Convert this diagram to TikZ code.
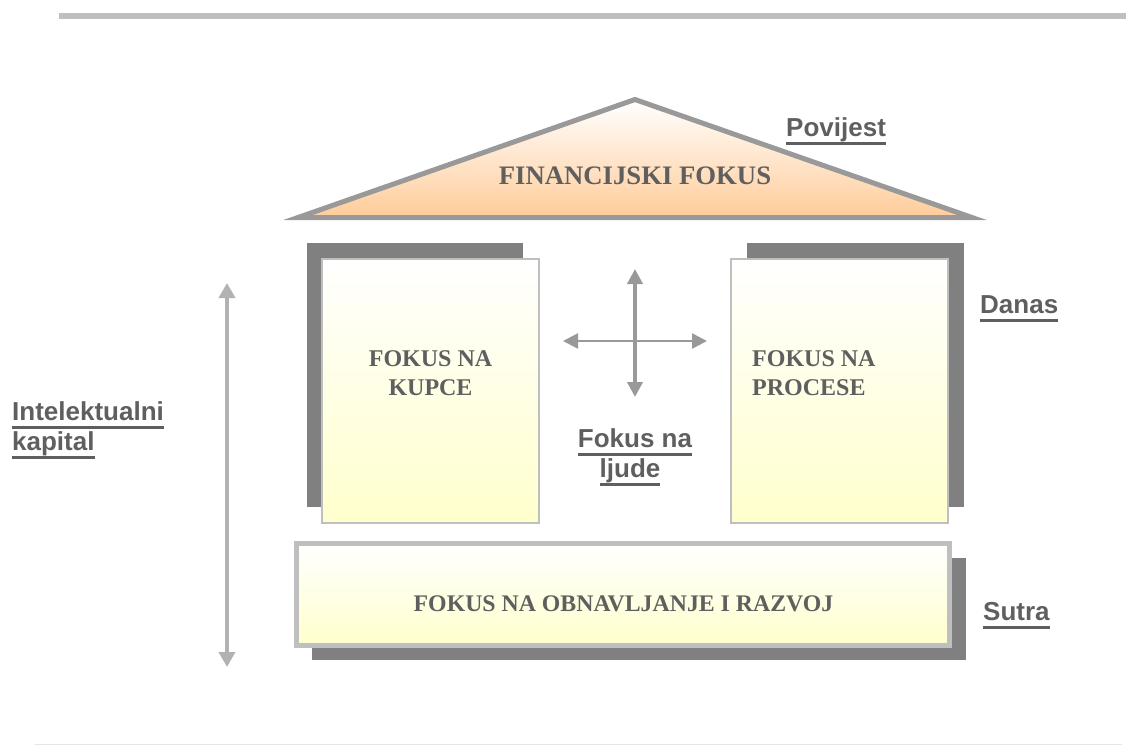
\documentclass[tikz,border=0pt]{standalone}
\usepackage{fontspec}
\setmainfont{Liberation Serif}
\newfontfamily\labelfont{Liberation Sans}
\usetikzlibrary{arrows.meta}
\definecolor{txtgray}{HTML}{5F5F5F}
\definecolor{shadowgray}{HTML}{808080}
\definecolor{rimgray}{HTML}{BFBFBF}
\definecolor{roofgray}{HTML}{999999}
\definecolor{peach}{HTML}{FFCC99}
\definecolor{paleyellow}{HTML}{FFFFCC}
\definecolor{axisgray}{HTML}{B2B2B2}
\definecolor{rulegray}{HTML}{E6E6E6}
% underline set a fixed distance below the baseline
\newcommand\ulabel[1]{\setbox0\hbox{#1}\rlap{\rule[-0.34em]{\wd0}{0.1em}}\box0}
\tikzset{
  shadowbox/.style={fill=shadowgray, draw=none, inner sep=0pt, outer sep=0pt},
  pillarbox/.style={draw=rimgray, line width=1.5pt, top color=white, bottom color=paleyellow, inner sep=0pt, outer sep=0pt},
  basebox/.style={draw=rimgray, line width=5pt, top color=white, bottom color=paleyellow, inner sep=0pt, outer sep=0pt},
  boxtxt/.style={font=\fontsize{24}{29}\selectfont\bfseries, text=txtgray, inner sep=0pt},
  lbl/.style={font=\labelfont\fontsize{26}{31}\selectfont\bfseries, text=txtgray, inner sep=0pt},
  hub/.style={draw=roofgray, {Triangle[length=15pt,width=15pt]}-{Triangle[length=15pt,width=15pt]}},
  axis/.style={draw=axisgray, line width=4.5pt, {Triangle[length=15pt,width=16pt]}-{Triangle[length=15pt,width=16pt]}}
}
\begin{document}
\begin{tikzpicture}[x=1pt,y=-1pt]
\useasboundingbox (0,0) rectangle (1126,745);

% page rules
\fill[rimgray] (59,12.5) rectangle (1126,19);
\draw[line width=1pt, rulegray] (35,744) -- (1122,744);

% roof
\coordinate (apex) at (635,99.5);
\coordinate (eaveL) at (298,217.5);
\coordinate (eaveR) at (972,217.5);
\fill[top color=white, bottom color=peach] (eaveL) -- (apex) -- (eaveR) -- cycle;
\draw[roofgray, line width=5pt, line join=miter] (eaveL) -- (apex) -- (eaveR) -- cycle;
\node[boxtxt, font=\fontsize{26.7}{31}\selectfont\bfseries, anchor=base] (fin) at (635,184) {FINANCIJSKI FOKUS};

% pillars
\node[shadowbox, minimum width=216pt, minimum height=264pt] (kupceSh) at (415,375) {};
\node[pillarbox, minimum width=217pt, minimum height=264pt] (kupce) at (430.5,391) {};
\node[boxtxt, align=center, anchor=north] (kupceTxt) at (430.5,350) {FOKUS NA\\KUPCE};

\node[shadowbox, minimum width=217pt, minimum height=264pt] (procesSh) at (855.5,375) {};
\node[pillarbox, minimum width=217pt, minimum height=264pt] (proces) at (839.5,391) {};
\node[boxtxt, align=left, anchor=north west] (procesTxt) at (752,350) {FOKUS NA\\PROCESE};

% foundation
\node[shadowbox, minimum width=654pt, minimum height=102pt] (razvojSh) at (639,609) {};
\node[basebox, minimum width=652.5pt, minimum height=102pt] (razvoj) at (622.75,594) {};
\node[boxtxt, font=\fontsize{23.8}{28}\selectfont\bfseries, anchor=base] (razvojTxt) at (623.5,611) {FOKUS NA OBNAVLJANJE I RAZVOJ};

% cross of arrows between the pillars
\coordinate (hubU) at (635,269);
\coordinate (hubD) at (635,397);
\coordinate (hubL) at (563,341);
\coordinate (hubR) at (707,341);
\draw[hub, line width=2.5pt] (hubL) -- (hubR);
\draw[hub, line width=4pt] (hubU) -- (hubD);

% vertical axis on the left
\coordinate (axTop) at (227,283);
\coordinate (axBot) at (227,667);
\draw[axis] (axTop) -- (axBot);

% labels
\node[lbl, anchor=base] (ljudi1) at (635,447) {\ulabel{Fokus na}};
\node[lbl, anchor=base] (ljudi2) at (630,477) {\ulabel{ljude}};
\node[lbl, anchor=base west] (povijest) at (786,136) {\ulabel{Povijest}};
\node[lbl, anchor=base west] (danas) at (980,313) {\ulabel{Danas}};
\node[lbl, anchor=base west] (sutra) at (983,620) {\ulabel{Sutra}};
\node[lbl, anchor=base west] (kap1) at (12,420) {\ulabel{Intelektualni}};
\node[lbl, anchor=base west] (kap2) at (12,450) {\ulabel{kapital}};
\end{tikzpicture}
\end{document}
